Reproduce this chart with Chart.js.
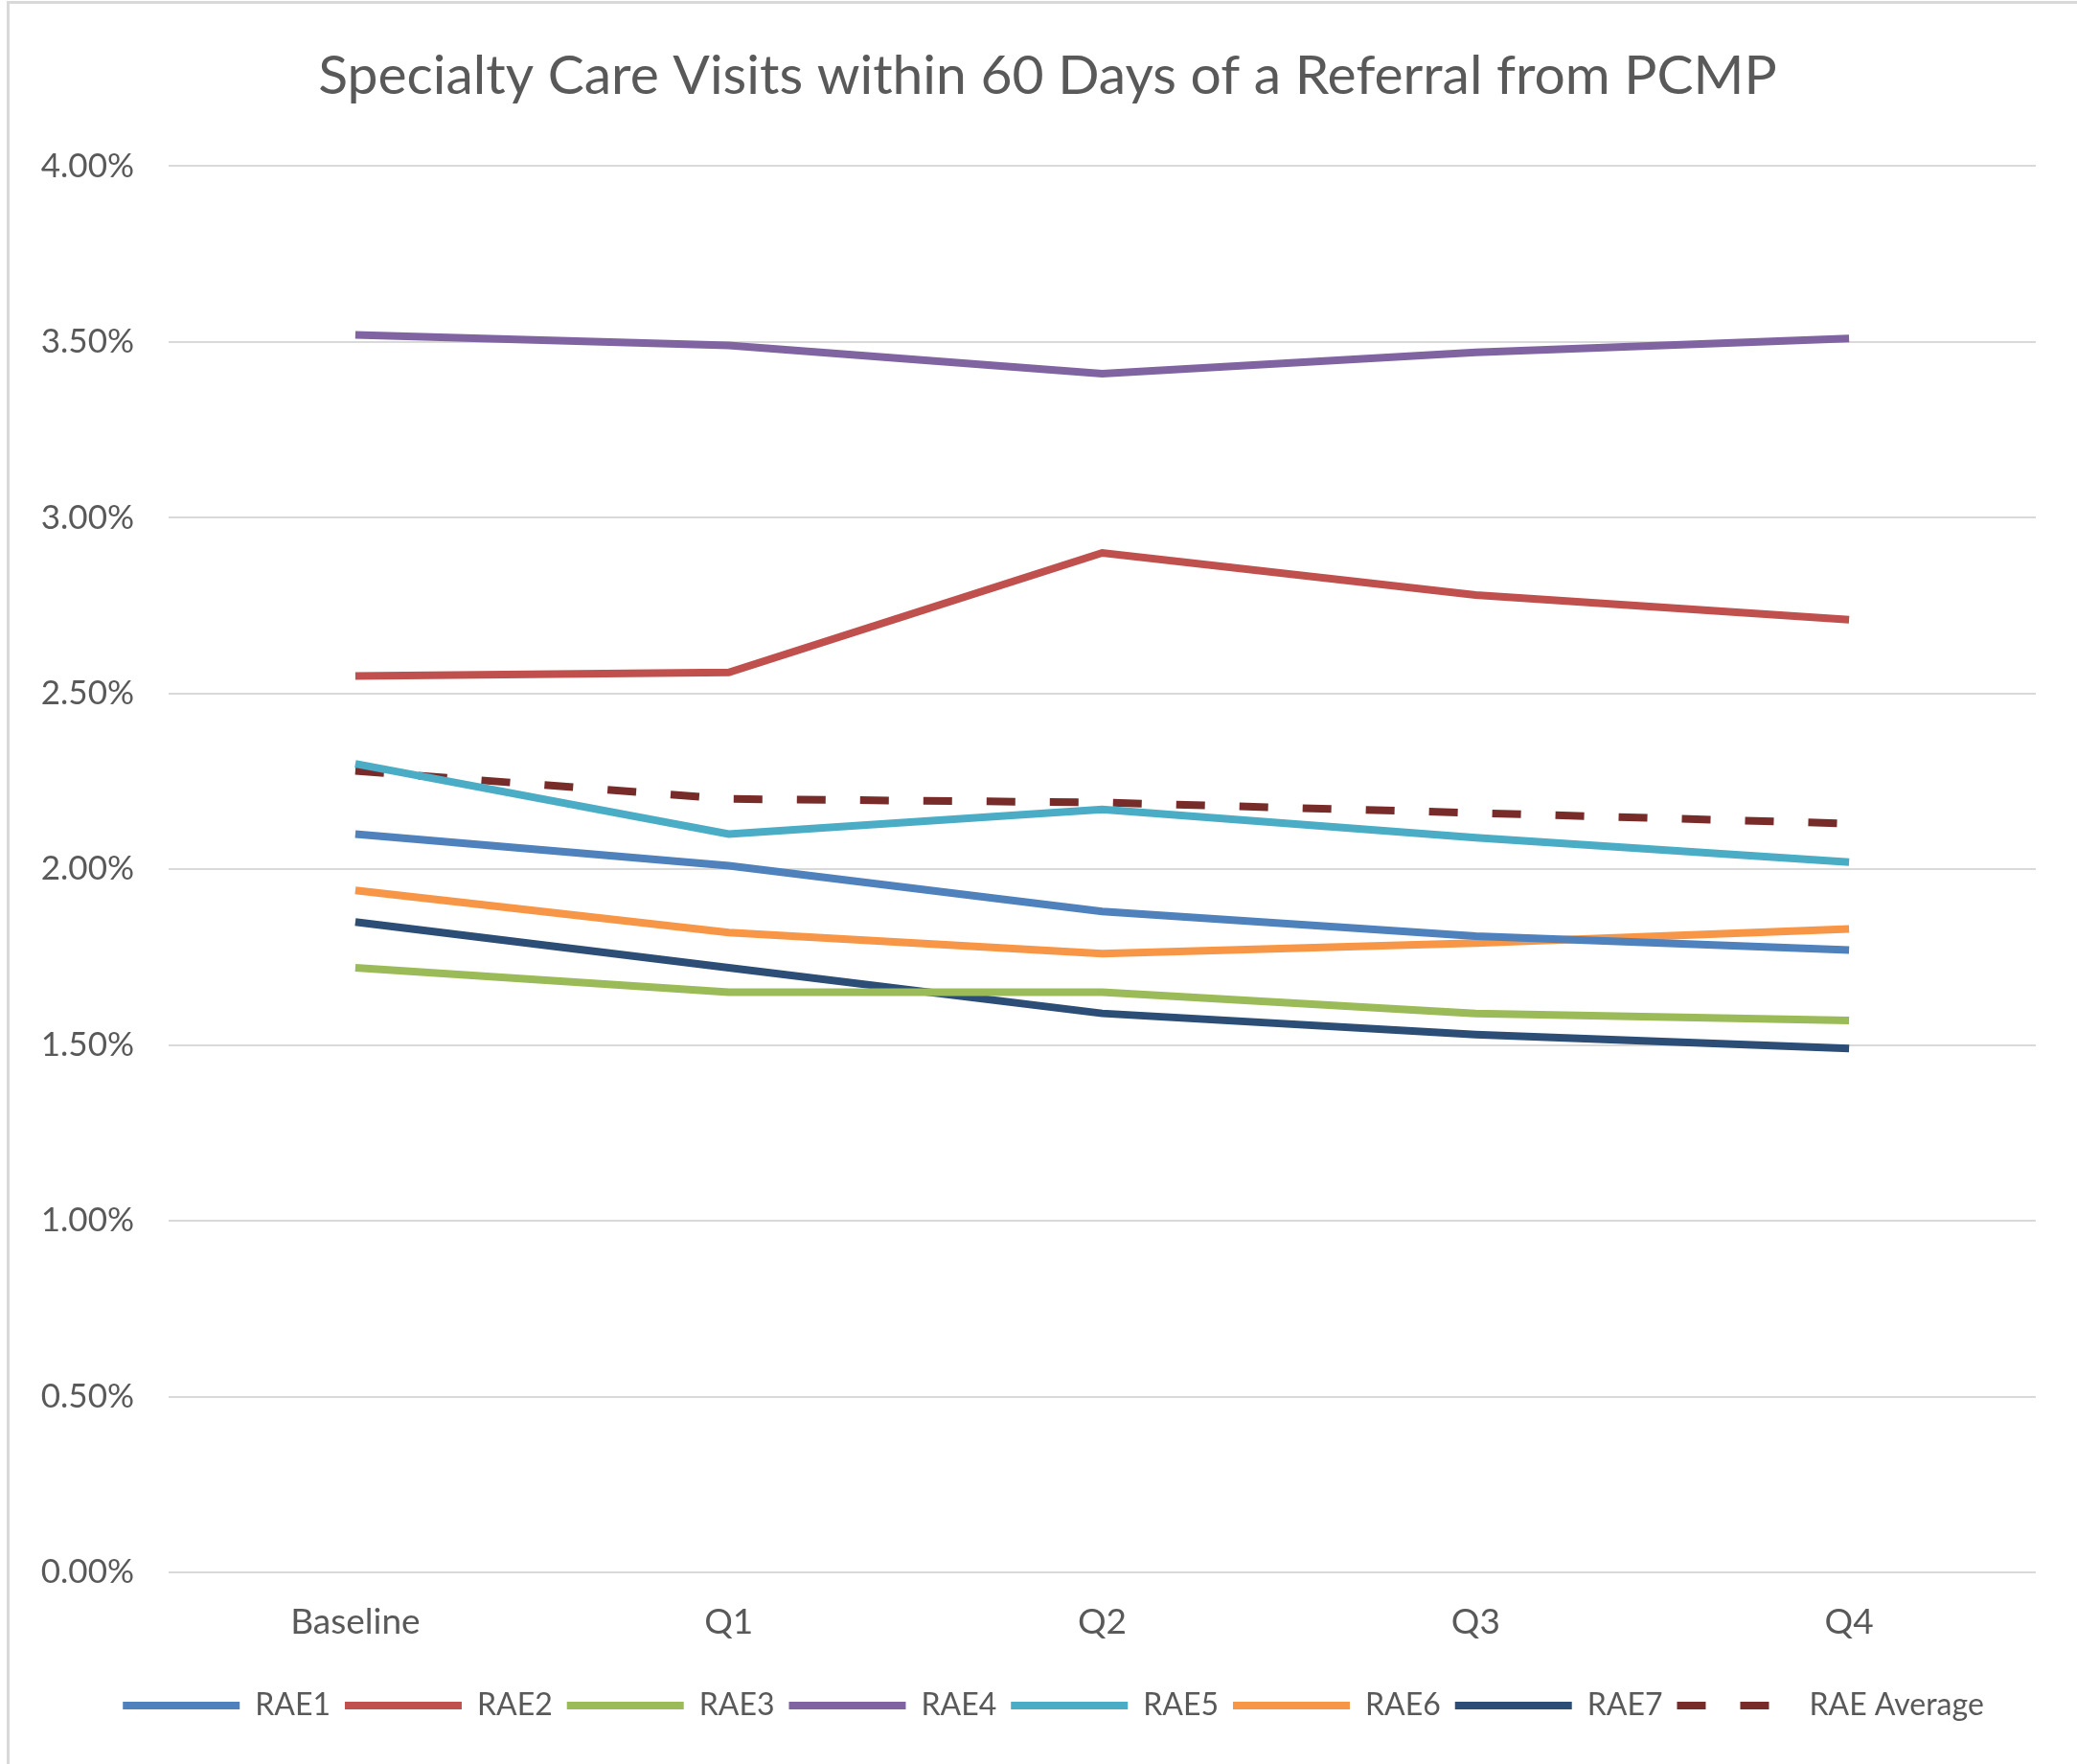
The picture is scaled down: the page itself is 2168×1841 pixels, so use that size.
<!DOCTYPE html>
<html>
<head>
<meta charset="utf-8">
<script src="https://cdn.jsdelivr.net/npm/chart.js@4"></script>
<style>
  html, body { margin: 0; padding: 0; background: #fff; }
  #wrap { position: relative; width: 2168px; height: 1841px; overflow: hidden; }
  #frame { position: absolute; left: 7px; top: 1px; width: 2400px; height: 2000px;
           border-left: 3px solid #D9D9D9; border-top: 3px solid #D9D9D9; }
  canvas { position: absolute; left: 0; top: 0; }
</style>
</head>
<body>
<div id="wrap">
  <div id="frame"></div>
  <canvas id="chart-area"></canvas>
</div>
<script>
var quarters = ['Baseline', 'Q1', 'Q2', 'Q3', 'Q4'];

// percent values
var rae1 = [2.10, 2.01, 1.88, 1.81, 1.77];
var rae2 = [2.55, 2.56, 2.90, 2.78, 2.71];
var rae3 = [1.72, 1.65, 1.65, 1.59, 1.57];
var rae4 = [3.52, 3.49, 3.41, 3.47, 3.51];
var rae5 = [2.30, 2.10, 2.17, 2.09, 2.02];
var rae6 = [1.94, 1.82, 1.76, 1.79, 1.83];
var rae7 = [1.85, 1.72, 1.59, 1.53, 1.49];
var raeAverage = [2.28, 2.20, 2.19, 2.16, 2.13];

var seriesNames = ['RAE1', 'RAE2', 'RAE3', 'RAE4', 'RAE5', 'RAE6', 'RAE7', 'RAE Average'];
var seriesData = [rae1, rae2, rae3, rae4, rae5, rae6, rae7, raeAverage];
var seriesColors = ['#4F81BD', '#C0504D', '#9BBB59', '#8064A2', '#4BACC6', '#F79646', '#2C4D75', '#772C2A'];

var datasets = seriesNames.map(function(name, i){
    return {
        label: name,
        data: seriesData[i],
        borderColor: seriesColors[i],
        backgroundColor: seriesColors[i],
        borderWidth: 8,
        borderDash: name === 'RAE Average' ? [30, 36] : [],
        pointRadius: 0,
        tension: 0,
        fill: false
    };
});

var textColor = '#595959';
var fontFamily = 'Lato';

// nudge the legend and title a bit to the right, like the original
var boxShift = {
    id: 'boxShift',
    afterLayout: function(chart){
        if (chart.legend) chart.legend.left = 74;
        if (chart.titleBlock) chart.titleBlock.left = 62;
    }
};

var ctx = document.getElementById('chart-area').getContext('2d');
var config = {
    type: 'line',
    data: {
        labels: quarters,
        datasets: datasets
    },
    plugins: [boxShift],
    options: {
        responsive: false,
        animation: false,
        layout: {
            padding: { left: 0, right: 43, top: 0, bottom: 35 }
        },
        plugins: {
            title: {
                display: true,
                text: 'Specialty Care Visits within 60 Days of a Referral from PCMP',
                color: textColor,
                font: { family: fontFamily, size: 57, weight: 'normal' },
                padding: { top: 45, bottom: 60 }
            },
            legend: {
                position: 'bottom',
                labels: {
                    usePointStyle: true,
                    pointStyle: 'line',
                    pointStyleWidth: 122,
                    padding: 15,
                    color: textColor,
                    font: { family: fontFamily, size: 32 },
                    generateLabels: function(chart){
                        var items = Chart.defaults.plugins.legend.labels.generateLabels(chart);
                        items.forEach(function(item){
                            var ds = chart.data.datasets[item.datasetIndex];
                            item.lineDash = ds.borderDash;
                            item.lineWidth = ds.borderWidth;
                            item.strokeStyle = ds.borderColor;
                        });
                        return items;
                    }
                }
            },
            tooltip: { enabled: false }
        },
        scales: {
            x: {
                offset: true,
                grid: { display: false, drawTicks: false },
                border: { display: false },
                ticks: {
                    color: textColor,
                    padding: 30,
                    font: { family: fontFamily, size: 37 }
                },
                afterFit: function(scale){ scale.height = 108; }
            },
            y: {
                min: 0,
                max: 4,
                grid: { color: '#D9D9D9', lineWidth: 2, drawTicks: false },
                border: { display: false },
                ticks: {
                    stepSize: 0.5,
                    color: textColor,
                    padding: 36,
                    font: { family: fontFamily, size: 35 },
                    callback: function(v){ return v.toFixed(2) + '%'; }
                },
                afterFit: function(scale){ scale.width = 176; }
            }
        }
    }
};
var canvas = document.getElementById('chart-area');
canvas.width = 2168;
canvas.height = 1841;
window.myLine = new Chart(ctx, config);
</script>
</body>
</html>
